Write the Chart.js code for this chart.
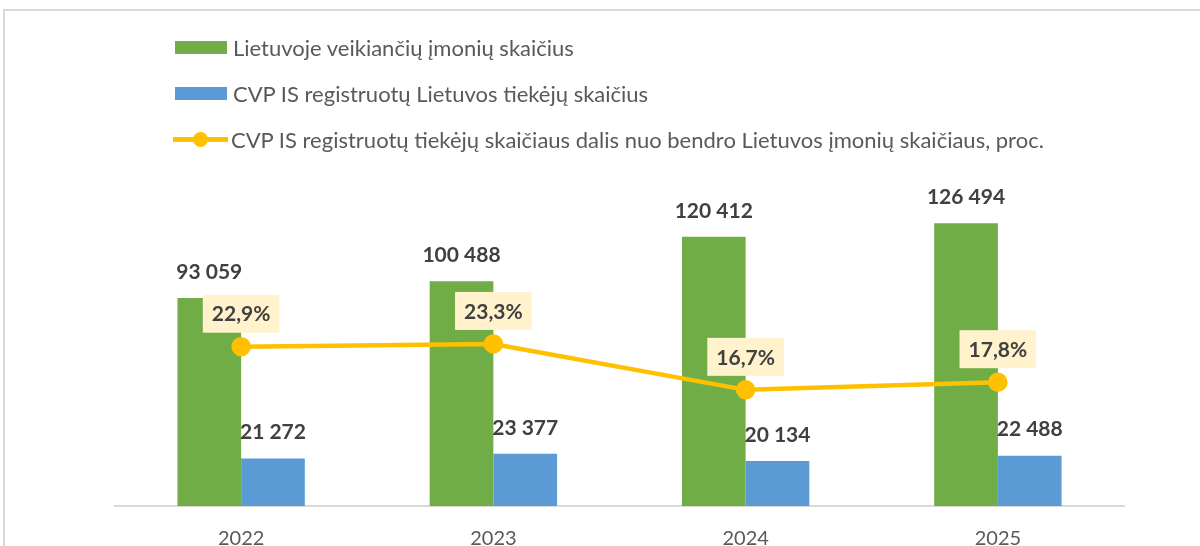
<!DOCTYPE html>
<html>
<head>
<meta charset="utf-8">
<script src="https://cdn.jsdelivr.net/npm/chart.js@4.4.1/dist/chart.umd.min.js"></script>
<style>
  html, body { margin: 0; padding: 0; background: #fff; }
  body { width: 1200px; height: 546px; position: relative; overflow: hidden; font-family: Lato, "Open Sans", sans-serif; }
  .frame { position: absolute; left: 3px; top: 9px; width: 1300px; height: 700px; border-top: 2px solid #d9d9d9; border-left: 2px solid #d9d9d9; }
  #wrap { position: absolute; left: 0; top: 0; width: 1200px; height: 546px; }
  .legend { position: absolute; left: 173px; top: 24px; color: #595959; font-size: 22px; }
  .legend .row { display: flex; align-items: center; height: 46px; }
  .legend .box { width: 52px; height: 13px; margin: 0 6px 0 2px; }
  .legend .ln { position: relative; width: 55px; height: 5px; background: #FFC000; margin-right: 3px; }
  .legend .ln::after { content: ""; position: absolute; left: 20px; top: -5px; width: 15px; height: 15px; border-radius: 50%; background: #FFC000; }
</style>
</head>
<body>
<div class="frame"></div>
<div id="wrap"><canvas id="myChart" width="1200" height="546"></canvas></div>
<div class="legend" id="legend"></div>
<script>
const years = ['2022', '2023', '2024', '2025'];
const companies = [93059, 100488, 120412, 126494];   // Lietuvoje veikiančių įmonių skaičius
const suppliers = [21272, 23377, 20134, 22488];      // CVP IS registruotų Lietuvos tiekėjų skaičius
const shares = [22.9, 23.3, 16.7, 17.8];             // dalis, proc.

const names = [
    'Lietuvoje veikiančių įmonių skaičius',
    'CVP IS registruotų Lietuvos tiekėjų skaičius',
    'CVP IS registruotų tiekėjų skaičiaus dalis nuo bendro Lietuvos įmonių skaičiaus, proc.'
];
const green = '#70AD47';
const blue = '#5B9BD5';
const yellow = '#FFC000';
const labelFont = 'bold 21px Lato, "Open Sans", sans-serif';

// legenda
const legend = document.getElementById('legend');
legend.innerHTML =
    '<div class="row"><span class="box" style="background:' + green + '"></span>' + names[0] + '</div>' +
    '<div class="row"><span class="box" style="background:' + blue + '"></span>' + names[1] + '</div>' +
    '<div class="row"><span class="ln"></span>' + names[2] + '</div>';

function fmtNum(v) {
    return String(v).replace(/\B(?=(\d{3})+(?!\d))/g, ' ');
}
function fmtPct(v) {
    return v.toFixed(1).replace('.', ',') + '%';
}

// reikšmių etiketės
const valueLabels = {
    id: 'valueLabels',
    afterDatasetsDraw(chart) {
        const ctx = chart.ctx;
        ctx.save();
        ctx.font = labelFont;
        ctx.textAlign = 'center';
        ctx.textBaseline = 'middle';
        [0, 1].forEach(i => {
            const meta = chart.getDatasetMeta(i);
            meta.data.forEach((bar, j) => {
                ctx.fillStyle = '#404040';
                ctx.fillText(fmtNum(chart.data.datasets[i].data[j]), bar.x, bar.y - 26);
            });
        });
        const lineMeta = chart.getDatasetMeta(2);
        lineMeta.data.forEach((pt, j) => {
            const txt = fmtPct(shares[j]);
            const w = ctx.measureText(txt).width + 18;
            const h = 38;
            const cy = pt.y - 33;
            ctx.fillStyle = '#FFF2CC';
            ctx.fillRect(pt.x - w / 2, cy - h / 2, w, h);
            ctx.fillStyle = '#404040';
            ctx.fillText(txt, pt.x, cy + 1);
        });
        ctx.restore();
    }
};

const ctx = document.getElementById('myChart').getContext('2d');
const myChart = new Chart(ctx, {
    type: 'bar',
    data: {
        labels: years,
        datasets: [{
            label: names[0],
            data: companies,
            backgroundColor: green,
            yAxisID: 'y',
            order: 2
        }, {
            label: names[1],
            data: suppliers,
            backgroundColor: blue,
            yAxisID: 'y',
            order: 2
        }, {
            type: 'line',
            label: names[2],
            data: shares,
            borderColor: yellow,
            backgroundColor: yellow,
            borderWidth: 4.5,
            pointRadius: 7.5,
            pointHoverRadius: 7.5,
            fill: false,
            tension: 0,
            yAxisID: 'y1',
            order: 0
        }]
    },
    plugins: [valueLabels],
    options: {
        responsive: false,
        animation: false,
        layout: { padding: { left: 115, right: 76, top: 193, bottom: 0 } },
        plugins: {
            legend: { display: false },
            tooltip: { enabled: false }
        },
        datasets: {
            bar: { categoryPercentage: 0.505, barPercentage: 1.0 }
        },
        scales: {
            x: {
                grid: { display: false, drawTicks: false },
                border: { display: true, color: '#d9d9d9', width: 2 },
                ticks: { color: '#595959', font: { family: 'Lato', size: 20 }, padding: 21 },
                afterFit: s => { s.height = 40; }
            },
            y: { display: false, min: 0, max: 140000 },
            y1: { display: false, min: 0, max: 45, position: 'right' }
        }
    }
});
</script>
</body>
</html>
